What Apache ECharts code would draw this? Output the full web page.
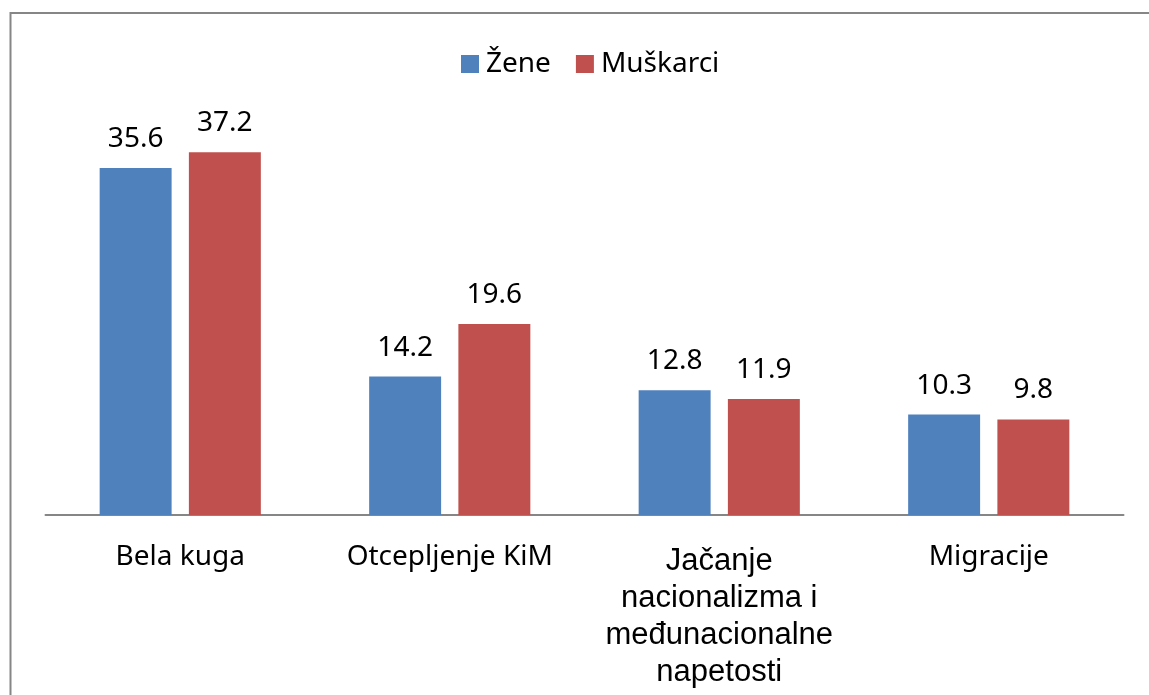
<!DOCTYPE html>
<html>
<head>
<meta charset="utf-8">
<script src="https://cdn.jsdelivr.net/npm/echarts@6/dist/echarts.min.js"></script>
<style>html,body{margin:0;padding:0;background:#fff}#c{width:1149px;height:695px}</style>
</head>
<body>
<div id="c"></div>
<script>
const categories = ['Bela kuga', 'Otcepljenje KiM', 'Jačanje\nnacionalizma i\nmeđunacionalne\nnapetosti', 'Migracije'];
const seriesNames = ['Žene', 'Muškarci'];
const zene = [35.6, 14.2, 12.8, 10.3];
const muskarci = [37.2, 19.6, 11.9, 9.8];

const chart = echarts.init(document.getElementById('c'));
const labelFont = 'Noto Sans';
const fs = 28;
chart.setOption({
  animation: false,
  backgroundColor: '#fff',
  graphic: [{
    type: 'rect', shape: {x: 10.5, y: 13, width: 1300, height: 900},
    style: {fill: 'none', stroke: '#868686', lineWidth: 2}, silent: true
  }],
  legend: {
    left: 456, top: 45, itemWidth: 18, itemHeight: 18, itemGap: 25,
    icon: 'rect',
    textStyle: {fontFamily: labelFont, fontSize: fs, color: '#000', padding: [0, 0, 0, 2]},
    data: seriesNames
  },
  grid: {left: 45.5, width: 1078, top: 125, bottom: 180, containLabel: false},
  xAxis: {
    type: 'category',
    data: categories.map((c, i) => i === 2 ? {value: c, textStyle: {fontFamily: 'Liberation Sans', fontSize: 31, lineHeight: 37, verticalAlign: 'top'}} : c),
    axisLine: {lineStyle: {color: '#868686', width: 2}},
    axisTick: {show: false},
    axisLabel: {fontFamily: labelFont, fontSize: fs, color: '#000', margin: 28, interval: 0, verticalAlign: 'top'}
  },
  yAxis: {
    type: 'value', min: 0, max: 40, interval: 10,
    show: false, splitLine: {show: false}
  },
  series: [
    {name: seriesNames[0], type: 'bar', data: zene, barWidth: '26.7%', barGap: '24%',
     itemStyle: {color: '#4F81BD'},
     label: {show: true, position: 'top', distance: 15, fontFamily: labelFont, fontSize: fs, color: '#000'}},
    {name: seriesNames[1], type: 'bar', data: muskarci, barWidth: '26.7%', barGap: '24%',
     itemStyle: {color: '#C0504D'},
     label: {show: true, position: 'top', distance: 15, fontFamily: labelFont, fontSize: fs, color: '#000'}}
  ]
});
</script>
</body>
</html>
